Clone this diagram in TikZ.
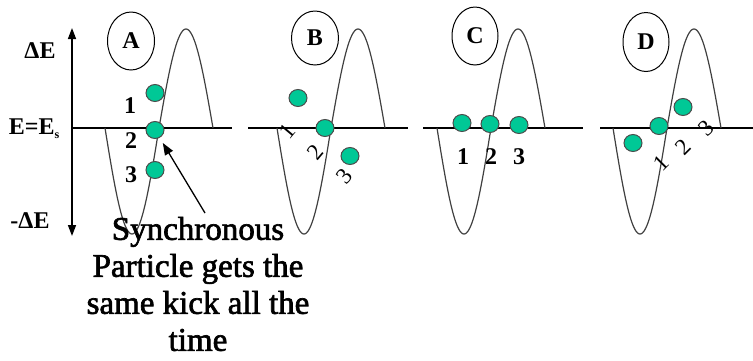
\documentclass[tikz,border=0pt]{standalone}
\usepackage{fontspec}
\setmainfont{Liberation Serif}
\newfontfamily\heavyserif[FakeBold=2]{Liberation Serif}
\usetikzlibrary{arrows.meta,shapes.geometric}
\definecolor{dotgreen}{RGB}{0,200,150}
\newcommand\mywave[1]{%
  \draw[wave] plot[domain=0:180,samples=45] ({#1+\x*0.3},{128+106*sin(\x)})
    -- plot[domain=180:360,samples=45] ({#1+\x*0.3},{128+99*sin(\x)});}
\begin{document}
\begin{tikzpicture}[x=1pt,y=-1pt,
  wave/.style={draw=black!75, line width=1.2pt},
  baseline/.style={line width=2.4pt},
  lab/.style={ellipse, draw, line width=1pt, minimum width=46pt, minimum height=58pt, inner sep=0pt, font=\fontsize{24}{24}\selectfont\bfseries},
  pdot/.style={ellipse, draw=black!70, line width=1pt, fill=dotgreen, minimum width=18pt, minimum height=17pt, inner sep=0pt},
  num/.style={font=\fontsize{24}{24}\selectfont\bfseries, inner sep=0pt},
  rnum/.style={font=\fontsize{23}{23}\selectfont, inner sep=0pt},
  axlab/.style={font=\fontsize{24}{24}\selectfont\bfseries, inner sep=0pt},
]
\useasboundingbox (0,0) rectangle (753,360);
% axis
\coordinate (axtop) at (72,28);
\coordinate (axbot) at (72,236);
\draw[{Triangle[length=11pt,width=8pt]}-{Triangle[length=11pt,width=8pt]}, line width=1.5pt] (axtop) -- (axbot);
\node[axlab] (dEp) at (40,51) {ΔE};
\node[axlab] (es) at (34,129) {E=E\raisebox{-0.35ex}{\fontsize{12}{12}\selectfont s}};
\node[axlab] (dEm) at (30,221) {-ΔE};
% base lines
\coordinate (la) at (72,128);  \coordinate (ra) at (232,128);
\coordinate (lb) at (248,128); \coordinate (rb) at (408,128);
\coordinate (lc) at (423,128); \coordinate (rc) at (583,128);
\coordinate (ld) at (600,128); \coordinate (rd) at (753,128);
\draw[baseline] (la) -- (ra);
\draw[baseline] (lb) -- (rb);
\draw[baseline] (lc) -- (rc);
\draw[baseline] (ld) -- (rd);
% waves
\mywave{105}
\mywave{277}
\mywave{437}
\mywave{613}
% panel labels
\node[lab, minimum width=47pt, minimum height=58pt] (pA) at (131,41) {A};
\node[lab, minimum width=47pt, minimum height=54pt] (pB) at (315,38) {B};
\node[lab] (pC) at (475,36) {C};
\node[lab, minimum height=59pt] (pD) at (646,42) {D};
% dots A
\node[pdot] (dA1) at (155,93) {};
\node[pdot] (dA2) at (155,130) {};
\node[pdot] (dA3) at (155,170) {};
\node[num] (nA1) at (130,106) {1};
\node[num] (nA2) at (131,141) {2};
\node[num] (nA3) at (131,175) {3};
% dots B
\node[pdot] (dB1) at (298,98) {};
\node[pdot] (dB2) at (325,128) {};
\node[pdot] (dB3) at (350,156) {};
\node[rnum, rotate=50] (nB1) at (287,131) {1};
\node[rnum, rotate=50] (nB2) at (315,152) {2};
\node[rnum, rotate=50] (nB3) at (344,176) {3};
% dots C
\node[pdot] (dC1) at (462,123) {};
\node[pdot] (dC2) at (490,124) {};
\node[pdot] (dC3) at (519,125) {};
\node[num] (nC1) at (463,157) {1};
\node[num] (nC2) at (491,157) {2};
\node[num] (nC3) at (519,157) {3};
% dots D
\node[pdot] (dD1) at (633,143) {};
\node[pdot] (dD2) at (659,126) {};
\node[pdot] (dD3) at (683,107) {};
\node[rnum, rotate=45] (nD1) at (661,163) {1};
\node[rnum, rotate=45] (nD2) at (683,147) {2};
\node[rnum, rotate=45] (nD3) at (706,128) {3};
% text and arrow
\node[font=\heavyserif\fontsize{33}{37}\selectfont, align=center, inner sep=0pt] (txt) at (198,284) {Synchronous\\Particle gets the\\same kick all the\\time};
\coordinate (arrtail) at (205,213);
\draw[-{Triangle[length=12pt,width=9pt]}, line width=1.3pt, shorten >=6pt] (arrtail) -- (dA2);
\end{tikzpicture}
\end{document}
